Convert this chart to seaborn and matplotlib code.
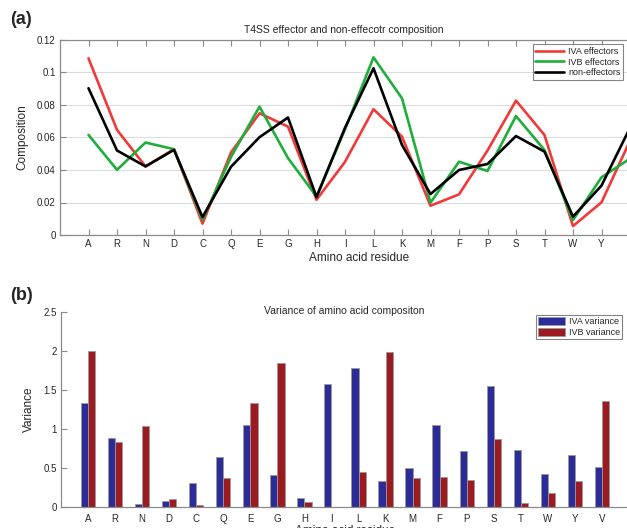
import numpy as np
import pandas as pd
import matplotlib
matplotlib.use("Agg")
import matplotlib.pyplot as plt
import seaborn as sns

sns.set_theme(style="white")
plt.rcParams['font.family'] = ['Liberation Sans', 'DejaVu Sans']

residues = ["A", "R", "N", "D", "C", "Q", "E", "G", "H", "I",
            "L", "K", "M", "F", "P", "S", "T", "W", "Y", "V"]

iva_effectors = [0.1087, 0.0647, 0.0422, 0.0528, 0.0070, 0.0508, 0.0749, 0.0667, 0.0217, 0.0450,
                 0.0774, 0.0605, 0.0180, 0.0250, 0.0520, 0.0827, 0.0615, 0.0055, 0.0201, 0.0580]
ivb_effectors = [0.0616, 0.0401, 0.0569, 0.0528, 0.0094, 0.0480, 0.0790, 0.0473, 0.0237, 0.0650,
                 0.1093, 0.0841, 0.0199, 0.0451, 0.0394, 0.0732, 0.0523, 0.0092, 0.0355, 0.0470]
non_effectors = [0.0903, 0.0520, 0.0422, 0.0524, 0.0110, 0.0420, 0.0602, 0.0723, 0.0233, 0.0660,
                 0.1026, 0.0554, 0.0252, 0.0400, 0.0437, 0.0609, 0.0513, 0.0113, 0.0304, 0.0660]

iva_variance = [1.328, 0.885, 0.034, 0.077, 0.306, 0.638, 1.047, 0.413, 0.111, 1.583,
                1.787, 0.336, 0.502, 1.051, 0.719, 1.553, 0.728, 0.426, 0.668, 0.511]
ivb_variance = [2.000, 0.838, 1.043, 0.098, 0.026, 0.366, 1.332, 1.851, 0.068, 0.005,
                0.455, 1.991, 0.370, 0.379, 0.349, 0.868, 0.055, 0.179, 0.328, 1.362]

line_names = ["IVA effectors", "IVB effectors", "non-effectors"]
line_colors = ["#f03a3a", "#1fae3c", "#000000"]
bar_names = ["IVA variance", "IVB variance"]
bar_colors = ["#2c2c98", "#9c1b20"]

pos = np.arange(len(residues))
df_lines = pd.DataFrame({
    "pos": np.tile(pos, 3),
    "value": iva_effectors + ivb_effectors + non_effectors,
    "series": np.repeat(line_names, len(residues)),
})
df_bars = pd.DataFrame({
    "residue": residues * 2,
    "value": iva_variance + ivb_variance,
    "series": np.repeat(bar_names, len(residues)),
})

W, H = 627, 528
fig = plt.figure(figsize=(W / 100, H / 100), dpi=100)

spine_col = "#8a8a8a"
tick_fs = 7

# ---------- (a) ----------
ax1 = fig.add_axes([60 / W, 1 - 235 / H, 598.5 / W, 195 / H])
sns.lineplot(data=df_lines, x="pos", y="value", hue="series",
             palette=dict(zip(line_names, line_colors)), ax=ax1,
             linewidth=1.9, legend=False, sort=True)
ax1.set_xlim(-1, 20)
ax1.set_ylim(0, 0.12)
ax1.set_xticks(pos)
ax1.set_xticklabels(residues, fontsize=tick_fs)
ax1.set_yticks([0, 0.02, 0.04, 0.06, 0.08, 0.1, 0.12])
ax1.set_yticklabels(["0", "0.02", "0.04", "0.06", "0.08", "0.1", "0.12"], fontsize=tick_fs)
ax1.yaxis.grid(True, color="#dcdcdc", linewidth=0.8)
ax1.set_axisbelow(True)
ax1.tick_params(axis="both", direction="in", length=4, width=0.8, color=spine_col,
                top=True, right=True, bottom=True, left=True, pad=3)
for s in ax1.spines.values():
    s.set_color(spine_col)
    s.set_linewidth(0.9)
ax1.set_xlabel("Amino acid residue", fontsize=8.5, labelpad=2)
ax1.set_ylabel("Composition", fontsize=8.5, labelpad=6)
fig.text(344 / W, 1 - 30 / H, "T4SS effector and non-effecotr composition",
         ha="center", va="center", fontsize=7.5)
fig.text(10 / W, 1 - 20 / H, "(a)", ha="left", va="center", fontsize=13, fontweight="bold")

handles1 = [plt.Line2D([], [], color=c, linewidth=1.9) for c in line_colors]
leg1 = fig.legend(handles1, line_names, loc="upper right",
                  bbox_to_anchor=(623 / W, 1 - 44 / H), bbox_transform=fig.transFigure,
                  fontsize=6.5, frameon=True, fancybox=False, handlelength=3.2,
                  borderpad=0.3, labelspacing=0.2, handletextpad=0.4, borderaxespad=0)
leg1.get_frame().set_edgecolor("#666666")
leg1.get_frame().set_linewidth(0.8)

# ---------- (b) ----------
ax2 = fig.add_axes([61 / W, 1 - 507 / H, 568 / W, 195 / H])
sns.barplot(data=df_bars, x="residue", y="value", hue="series",
            palette=dict(zip(bar_names, bar_colors)), ax=ax2,
            width=0.53, edgecolor="#9a9a9a", linewidth=0.6, saturation=1,
            legend=False, errorbar=None)
ax2.set_xlim(-1, 20)
ax2.set_ylim(0, 2.5)
ax2.set_yticks([0, 0.5, 1, 1.5, 2, 2.5])
ax2.set_yticklabels(["0", "0.5", "1", "1.5", "2", "2.5"], fontsize=tick_fs)
ax2.set_xticks(pos)
ax2.set_xticklabels(residues, fontsize=tick_fs)
ax2.tick_params(axis="y", direction="in", length=4, width=0.8, color=spine_col, left=True, pad=3)
ax2.tick_params(axis="x", length=0, pad=5)
for side in ["top", "right"]:
    ax2.spines[side].set_visible(False)
for side in ["left", "bottom"]:
    ax2.spines[side].set_color(spine_col)
    ax2.spines[side].set_linewidth(0.9)
ax2.set_xlabel("Amino acid residue", fontsize=8.5, labelpad=1)
ax2.set_ylabel("Variance", fontsize=8.5, labelpad=6)
fig.text(344 / W, 1 - 311 / H, "Variance of amino acid compositon",
         ha="center", va="center", fontsize=7.5)
fig.text(10 / W, 1 - 296 / H, "(b)", ha="left", va="center", fontsize=13, fontweight="bold")

handles2 = [plt.Rectangle((0, 0), 1, 1, facecolor=c, edgecolor="#9a9a9a", linewidth=0.6)
            for c in bar_colors]
leg2 = fig.legend(handles2, bar_names, loc="upper right",
                  bbox_to_anchor=(622 / W, 1 - 315 / H), bbox_transform=fig.transFigure,
                  fontsize=6.5, frameon=True, fancybox=False, handlelength=3.0,
                  handleheight=1.0, borderpad=0.25, labelspacing=0.15, handletextpad=0.4,
                  borderaxespad=0)
leg2.get_frame().set_edgecolor("#666666")
leg2.get_frame().set_linewidth(0.8)

fig.savefig("out.png", dpi=100)
